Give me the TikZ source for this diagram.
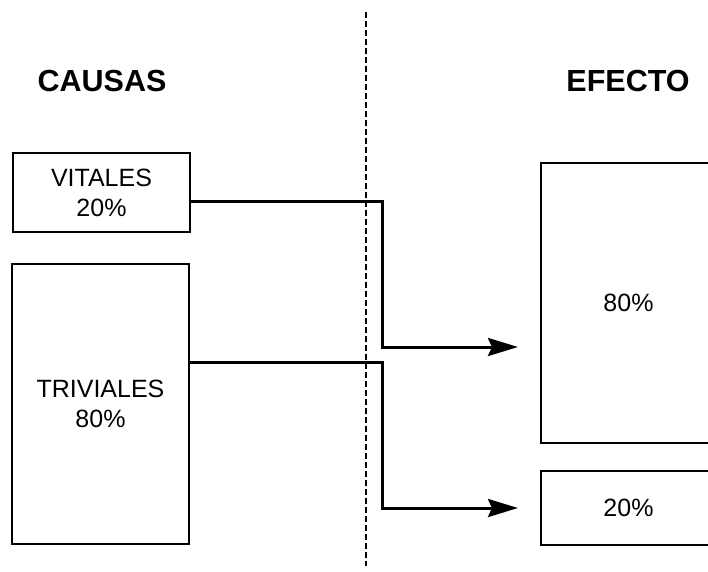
\documentclass[tikz,border=0pt]{standalone}
\usepackage{fontspec}
\setmainfont{Liberation Sans}
\usetikzlibrary{arrows.meta}
\begin{document}
\begin{tikzpicture}[x=1pt,y=-1pt,
  box/.style={draw=black,line width=2.3pt,rectangle,inner sep=0pt,align=center,font=\fontsize{25}{30}\selectfont},
  head/.style={font=\fontsize{30.5}{36}\selectfont\bfseries},
  arr/.style={line width=3pt,-{Stealth[length=30pt,width=18pt,inset=4pt]}},
  sep/.style={line width=1.6pt,dash pattern=on 6pt off 3pt}]
\useasboundingbox (0,0) rectangle (708,571);
\node[head] (causas) at (102,81) {CAUSAS};
\node[head] (efecto) at (628,81) {EFECTO};
\node[box,minimum width=177pt,minimum height=79pt] (vit) at (101.5,192.5) {VITALES\\20\%};
\node[box,minimum width=177pt,minimum height=280pt] (triv) at (100.5,404) {TRIVIALES\\80\%};
\node[box,minimum width=171pt,minimum height=280pt] (e80) at (626.5,303) {\hspace*{4pt}80\%};
\node[box,minimum width=171pt,minimum height=74pt] (e20) at (626.5,508) {\hspace*{4pt}20\%};
\coordinate (d1) at (366,12);
\coordinate (d2) at (366,566);
\draw[sep] (d1) -- (d2);
\coordinate (t1) at (518,347);
\coordinate (t2) at (518,508);
\draw[arr] ([yshift=-8.5pt]vit.east) -- ++(191,0) |- (t1);
\draw[arr] ([yshift=42pt]triv.east) -- ++(192,0) |- (t2);
\end{tikzpicture}
\end{document}
